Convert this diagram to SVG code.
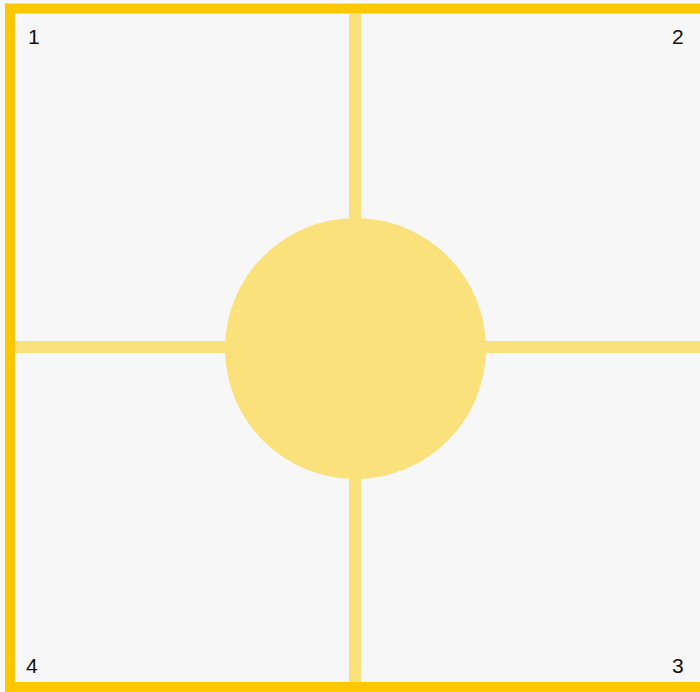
<svg xmlns="http://www.w3.org/2000/svg" width="700" height="692" viewBox="0 0 700 692">
<style>
.lbl{font-family:"Liberation Sans",Arial,sans-serif;font-size:21px;fill:#111;}
.arm{stroke:#fbe17c;stroke-width:12;fill:none;}
</style>
<rect x="0" y="0" width="700" height="692" fill="#f7f7f7"/>
<g id="frame">
<path d="M10 692 L10 8.5 L700 8.5" fill="none" stroke="#fdc800" stroke-width="10"/>
<line x1="5" y1="687" x2="700" y2="687" stroke="#fdc800" stroke-width="10"/>
</g>
<g id="connectors">
<line class="arm" x1="355" y1="13" x2="355" y2="222"/>
<line class="arm" x1="355" y1="475" x2="355" y2="682"/>
<line class="arm" x1="15" y1="347" x2="228" y2="347"/>
<line class="arm" x1="483" y1="347" x2="700" y2="347"/>
</g>
<g id="center"><circle cx="355.5" cy="348.5" r="130.5" fill="#fbe17c"/></g>
<g id="q1"><text class="lbl" x="28" y="44">1</text></g>
<g id="q2"><text class="lbl" x="672" y="44">2</text></g>
<g id="q3"><text class="lbl" x="672" y="673">3</text></g>
<g id="q4"><text class="lbl" x="26" y="673">4</text></g>
</svg>
